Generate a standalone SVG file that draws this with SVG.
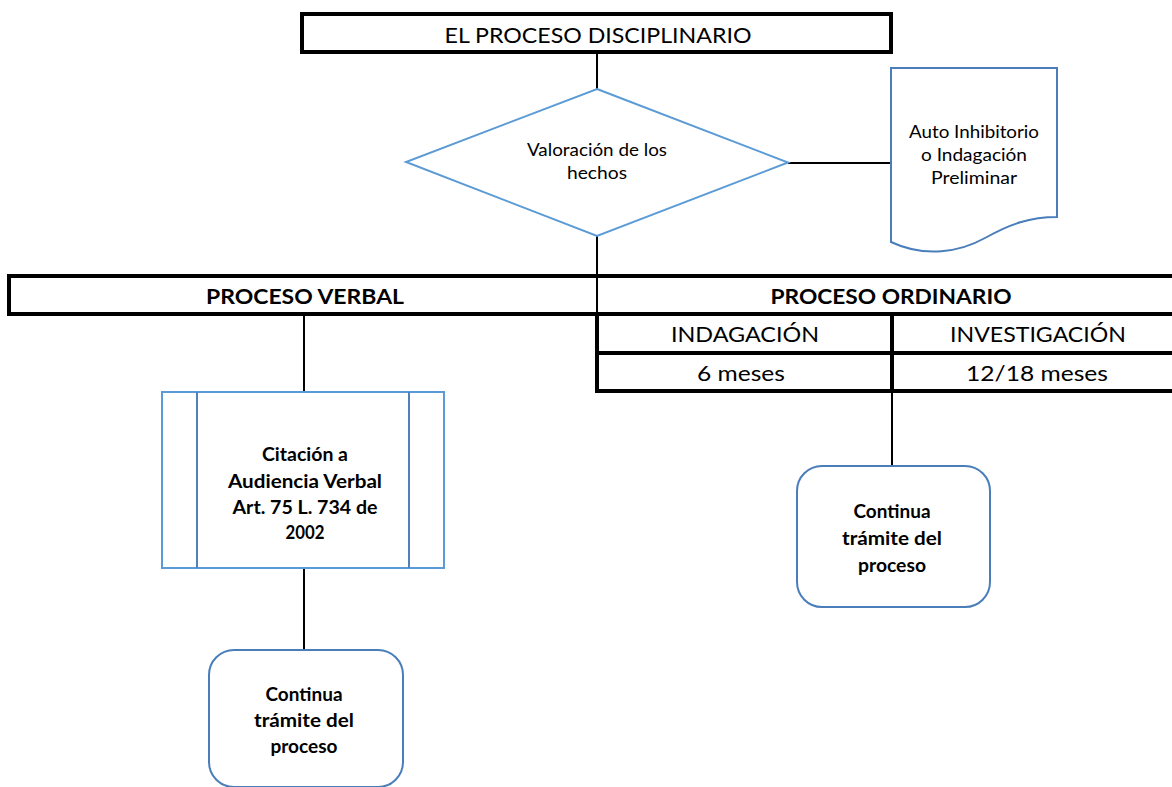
<svg xmlns="http://www.w3.org/2000/svg" width="1172" height="787" viewBox="0 0 1172 787">
<style>
  text { font-family: "Lato", "Open Sans", "Liberation Sans", sans-serif; fill: #000; text-anchor: middle; }
  .b { font-weight: bold; }
  .thick { fill: none; stroke: #000; stroke-width: 4; }
  .conn { fill: none; stroke: #000; stroke-width: 2; }
  .blue { fill: #fff; stroke: #5b9bd5; stroke-width: 2; }
  .dblue { fill: #fff; stroke: #4a7ebb; stroke-width: 2; }
</style>
<rect width="1172" height="787" fill="#fff"/>
<g id="connectors">
  <line class="conn" x1="597" y1="52" x2="597" y2="89"/>
  <line class="conn" x1="597" y1="235" x2="597" y2="314"/>
  <line class="conn" x1="788" y1="163" x2="891" y2="163"/>
  <line class="conn" x1="304" y1="314" x2="304" y2="392"/>
  <line class="conn" x1="304" y1="568" x2="304" y2="650"/>
  <line class="conn" x1="892" y1="391" x2="892" y2="466"/>
</g>
<g id="title">
  <rect class="thick" x="302" y="14" width="589" height="38"/>
  <text x="598" y="43" font-size="22" textLength="307" lengthAdjust="spacingAndGlyphs">EL PROCESO DISCIPLINARIO</text>
</g>
<g id="valoracion">
  <polygon class="blue" points="597,89 788,162.5 597,236 406,162"/>
  <text x="597" y="156" font-size="17" textLength="140" lengthAdjust="spacingAndGlyphs">Valoración de los</text>
  <text x="597" y="179" font-size="17" textLength="60" lengthAdjust="spacingAndGlyphs">hechos</text>
</g>
<g id="auto-inhibitorio">
  <path class="dblue" d="M891,68 H1057 V217 C1030,217 1010,224 985,238 C960,252 925,258 891,242 Z"/>
  <text x="974" y="138" font-size="17" textLength="130" lengthAdjust="spacingAndGlyphs">Auto Inhibitorio</text>
  <text x="974" y="161" font-size="17" textLength="106" lengthAdjust="spacingAndGlyphs">o Indagación</text>
  <text x="974" y="184" font-size="17" textLength="86" lengthAdjust="spacingAndGlyphs">Preliminar</text>
</g>
<g id="proceso-header">
  <path class="thick" d="M1174,276 H9 V314 H1174"/>
  <text class="b" x="305" y="304" font-size="20" textLength="198" lengthAdjust="spacingAndGlyphs">PROCESO VERBAL</text>
  <text class="b" x="891" y="304" font-size="20" textLength="241" lengthAdjust="spacingAndGlyphs">PROCESO ORDINARIO</text>
</g>
<g id="ordinario-table">
  <path class="thick" d="M1174,314 H597 V391 H1174"/>
  <line class="thick" x1="597" y1="353" x2="1174" y2="353"/>
  <line class="thick" x1="892" y1="314" x2="892" y2="391"/>
  <text x="745" y="342" font-size="21" textLength="148" lengthAdjust="spacingAndGlyphs">INDAGACIÓN</text>
  <text x="1038" y="342" font-size="21" textLength="176" lengthAdjust="spacingAndGlyphs">INVESTIGACIÓN</text>
  <text x="741" y="381" font-size="21" textLength="88" lengthAdjust="spacingAndGlyphs">6 meses</text>
  <text x="1037" y="381" font-size="21" textLength="142" lengthAdjust="spacingAndGlyphs">12/18 meses</text>
</g>
<g id="citacion">
  <rect class="blue" x="162" y="392" width="282" height="176" stroke="#4f81bd"/>
  <line x1="197" y1="392" x2="197" y2="568" stroke="#4f81bd" stroke-width="2"/>
  <line x1="409" y1="392" x2="409" y2="568" stroke="#4f81bd" stroke-width="2"/>
  <text class="b" x="305" y="461" font-size="18" textLength="86" lengthAdjust="spacingAndGlyphs">Citación a</text>
  <text class="b" x="305" y="488" font-size="18" textLength="154" lengthAdjust="spacingAndGlyphs">Audiencia Verbal</text>
  <text class="b" x="305" y="514" font-size="18" textLength="145" lengthAdjust="spacingAndGlyphs">Art. 75 L. 734 de</text>
  <text class="b" x="305" y="539" font-size="18" textLength="39" lengthAdjust="spacingAndGlyphs">2002</text>
</g>
<g id="continua-verbal">
  <rect class="dblue" x="209" y="650" width="194" height="137" rx="25" ry="25"/>
  <text class="b" x="304" y="701" font-size="18" textLength="77" lengthAdjust="spacingAndGlyphs">Continua</text>
  <text class="b" x="304" y="727" font-size="18" textLength="100" lengthAdjust="spacingAndGlyphs">trámite del</text>
  <text class="b" x="304" y="753" font-size="18" textLength="67" lengthAdjust="spacingAndGlyphs">proceso</text>
</g>
<g id="continua-ordinario">
  <rect class="dblue" x="797" y="466" width="193" height="141" rx="25" ry="25"/>
  <text class="b" x="892" y="518" font-size="18" textLength="77" lengthAdjust="spacingAndGlyphs">Continua</text>
  <text class="b" x="892" y="545" font-size="18" textLength="100" lengthAdjust="spacingAndGlyphs">trámite del</text>
  <text class="b" x="892" y="572" font-size="18" textLength="68" lengthAdjust="spacingAndGlyphs">proceso</text>
</g>
</svg>
